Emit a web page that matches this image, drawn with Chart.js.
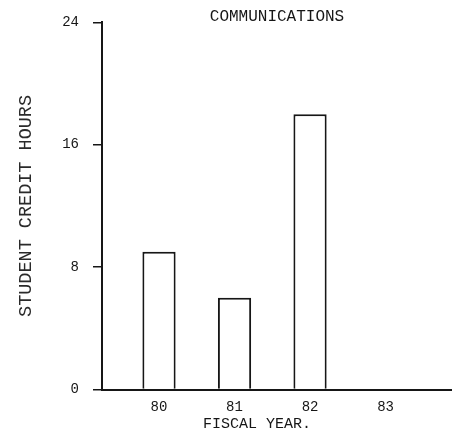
<!DOCTYPE html>
<html>
<head>
<meta charset="utf-8">
<script src="https://cdn.jsdelivr.net/npm/chart.js@4/dist/chart.umd.min.js"></script>
<style>
  html, body { margin: 0; padding: 0; background: #fff; }
  #wrap { width: 452px; height: 439px; }
</style>
</head>
<body>
<div id="wrap"><canvas id="chart"></canvas></div>
<script>
// fiscal years on the x axis and student credit hours per year
const years = [80, 81, 82, 83];
const hours = [9, 6, 18, 0];
const yTicks = [0, 8, 16, 24];

const ink = "#161616";
const mono = "'Liberation Mono', 'DejaVu Sans Mono', monospace";

const ctx = document.getElementById("chart").getContext("2d");

const chart = new Chart(ctx, {
  type: "bar",
  data: {
    datasets: [
      {
        data: years.map((y, i) => ({ x: y, y: hours[i] })),
        backgroundColor: "#ffffff",
        borderColor: ink,
        borderWidth: 2,
        borderSkipped: "bottom",
        barPercentage: 0.55,
        categoryPercentage: 0.8
      }
    ]
  },
  options: {
    responsive: true,
    maintainAspectRatio: false,
    animation: false,
    layout: {
      padding: { left: 62, right: 0, top: 0, bottom: 0 }
    },
    plugins: {
      legend: { display: false },
      tooltip: { enabled: false },
      title: {
        display: true,
        text: "COMMUNICATIONS",
        position: "top",
        fullSize: false,
        color: ink,
        font: { family: mono, size: 16, weight: "normal", lineHeight: 1 },
        padding: { top: 7, bottom: -2 }
      },
      subtitle: {
        display: true,
        text: "FISCAL YEAR.",
        position: "bottom",
        fullSize: true,
        color: ink,
        font: { family: mono, size: 15, weight: "normal", lineHeight: 1 },
        padding: { top: 0, bottom: 7 }
      }
    },
    scales: {
      x: {
        type: "linear",
        min: 79.245,
        max: 83.88,
        offset: false,
        afterBuildTicks: (scale) => {
          scale.ticks = years.map(v => ({ value: v }));
        },
        afterFit: (scale) => {
          scale.height = 27.5;
        },
        grid: { display: false },
        border: { display: true, color: ink, width: 2 },
        ticks: {
          color: ink,
          padding: 1,
          font: { family: mono, size: 14 },
          callback: (v) => String(v)
        }
      },
      y: {
        min: 0,
        max: 24,
        afterBuildTicks: (scale) => {
          scale.ticks = yTicks.map(v => ({ value: v }));
        },
        afterFit: (scale) => {
          scale.width = 40;
        },
        grid: {
          drawOnChartArea: false,
          drawTicks: true,
          tickLength: 9,
          color: ink,
          lineWidth: 1.5
        },
        border: { display: true, color: ink, width: 2 },
        ticks: {
          color: ink,
          padding: 14,
          font: { family: mono, size: 14 }
        },
        title: {
          display: true,
          text: "STUDENT CREDIT HOURS",
          color: "#2a2a2a",
          font: { family: mono, size: 18.5, weight: "normal", lineHeight: 1 },
          padding: { top: -45, bottom: 0 }
        }
      }
    }
  }
});
</script>
</body>
</html>
